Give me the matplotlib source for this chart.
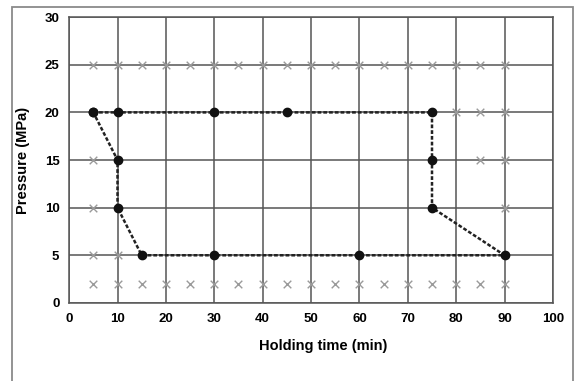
import matplotlib.pyplot as plt
import matplotlib.patches as mpatches

# path of the tested conditions (black dots, dashed)
path_t = [5, 10, 30, 45, 75, 75, 75, 90, 60, 30, 15, 10, 10, 5]
path_p = [20, 20, 20, 20, 20, 15, 10, 5, 5, 5, 5, 10, 15, 20]

# untested points (gray crosses)
cross_t = [5, 10, 15, 20, 25, 30, 35, 40, 45, 50, 55, 60, 65, 70, 75, 80, 85, 90,
           5, 10, 15, 20, 25, 30, 35, 40, 45, 50, 55, 60, 65, 70, 75, 80, 85, 90,
           80, 85, 90, 5, 85, 90, 5, 90, 5, 10]
cross_p = [25] * 18 + [2] * 18 + [20, 20, 20, 15, 15, 15, 10, 10, 5, 5]

xticks = list(range(0, 101, 10))
yticks = list(range(0, 31, 5))

fnt = ['Liberation Sans Narrow', 'Liberation Sans', 'DejaVu Sans']

fig = plt.figure(figsize=(5.76, 3.81), dpi=100)
# outer frame of the original figure
fig.patches.append(mpatches.Rectangle((12 / 576, -0.02), 561 / 576, 1.02 - 7 / 381,
                                      transform=fig.transFigure, fill=False,
                                      edgecolor='#8a8a8a', linewidth=1.3))
ax = fig.add_axes([0.12, 0.205, 0.84, 0.75])

ax.scatter(cross_t, cross_p, marker='x', s=30, color='#9a9a9a', linewidths=1.0, zorder=3)
ax.plot(path_t, path_p, linestyle='--', color='#222222', linewidth=1.8, dashes=(1.5, 0.8),
        marker='o', markersize=6, markerfacecolor='#111111', markeredgecolor='#111111', zorder=4)

ax.set_xlim(0, 100)
ax.set_ylim(0, 30)
ax.set_xticks(xticks)
ax.set_yticks(yticks)
ax.grid(True, color='#555555', linewidth=1.1)
ax.set_axisbelow(True)
for s in ax.spines.values():
    s.set_color('#555555')
    s.set_linewidth(1.1)
ax.tick_params(length=0, pad=7, labelsize=9.5)
for lab in ax.get_xticklabels() + ax.get_yticklabels():
    lab.set_fontfamily(fnt)
    lab.set_fontweight('bold')

ax.set_xlabel('Holding time (min)', fontsize=10.5, fontweight='bold', family=fnt)
ax.xaxis.set_label_coords(0.525, -0.125)
ax.set_ylabel('Pressure (MPa)', fontsize=10.5, fontweight='bold', family=fnt)
ax.yaxis.set_label_coords(-0.08, 0.5)

fig.savefig('out.png', dpi=100)
